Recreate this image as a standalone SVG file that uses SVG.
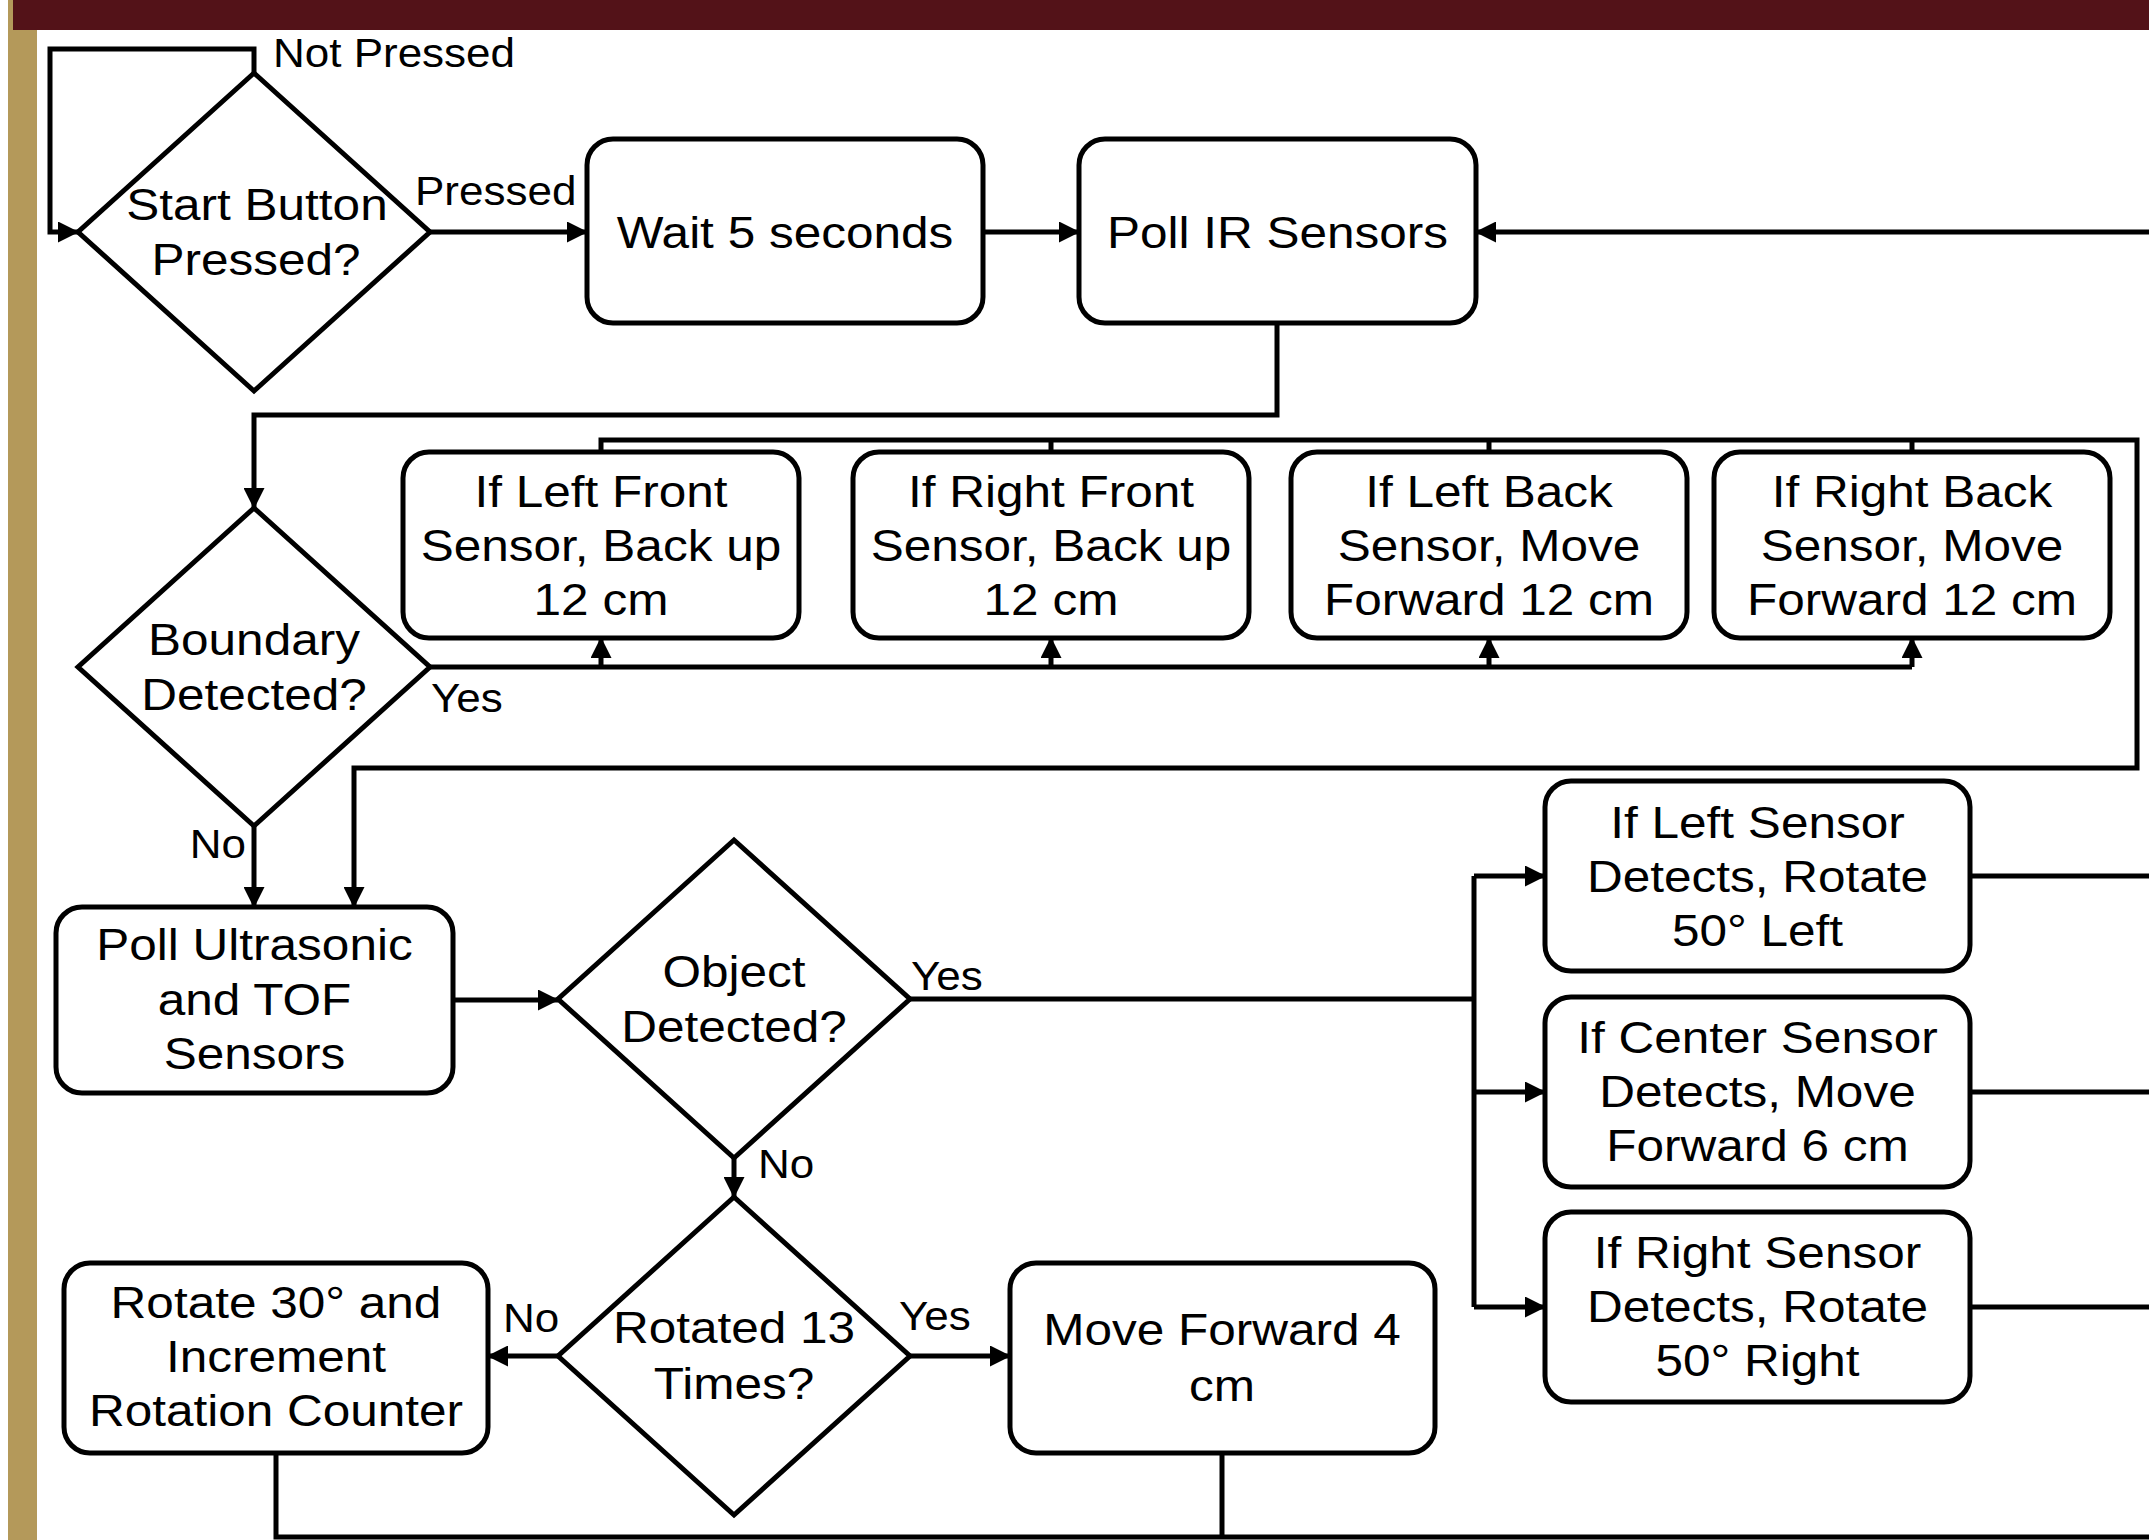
<svg xmlns="http://www.w3.org/2000/svg" width="2149" height="1540" viewBox="0 0 2149 1540">
<defs>
<style>
.n{fill:#fff;stroke:#000;stroke-width:5}
.c{fill:none;stroke:#000;stroke-width:5}
.a{marker-end:url(#ah)}
.t{font-family:"Liberation Sans",Arial,sans-serif;font-size:45px;fill:#000;text-anchor:middle}
.l{font-family:"Liberation Sans",Arial,sans-serif;font-size:40px;fill:#000}
</style>
<marker id="ah" markerUnits="userSpaceOnUse" markerWidth="21" markerHeight="21" refX="20" refY="10.5" orient="auto">
<path d="M0,0 L21,10.5 L0,21 z" fill="#000"/>
</marker>
</defs>
<rect x="0" y="0" width="2149" height="1540" fill="#fff"/>
<rect x="8" y="0" width="29" height="1540" fill="#b4995a"/>
<rect x="13" y="0" width="2136" height="30" fill="#531218"/>

<g id="connectors">
<path class="c a" d="M254,73 V49 H50 V232 H78"/>
<path class="c a" d="M430,232 H587"/>
<path class="c a" d="M983,232 H1079"/>
<path class="c a" d="M2149,232 H1476"/>
<path class="c a" d="M1277,323 V415 H254 V508"/>
<path class="c" d="M430,667 H1912"/>
<path class="c a" d="M601,667 V638"/>
<path class="c a" d="M1051,667 V638"/>
<path class="c a" d="M1489,667 V638"/>
<path class="c a" d="M1912,667 V638"/>
<path class="c a" d="M601,452 V440 H2137 V768 H354 V907"/>
<path class="c" d="M1051,452 V440"/>
<path class="c" d="M1489,452 V440"/>
<path class="c" d="M1912,452 V440"/>
<path class="c a" d="M254,826 V907"/>
<path class="c a" d="M453,1000 H558"/>
<path class="c" d="M910,999 H1474"/>
<path class="c" d="M1474,876 V1307"/>
<path class="c a" d="M1474,876 H1545"/>
<path class="c a" d="M1474,1092 H1545"/>
<path class="c a" d="M1474,1307 H1545"/>
<path class="c" d="M1970,876 H2149"/>
<path class="c" d="M1970,1092 H2149"/>
<path class="c" d="M1970,1307 H2149"/>
<path class="c a" d="M734,1158 V1197"/>
<path class="c a" d="M558,1356 H488"/>
<path class="c a" d="M910,1356 H1010"/>
<path class="c" d="M276,1453 V1537 H2149"/>
<path class="c" d="M1222,1453 V1537"/>
</g>

<g id="labels">
<text class="l" transform="scale(1.1 1)" x="248.18" y="67">Not Pressed</text>
<text class="l" transform="scale(1.1 1)" x="377.27" y="205">Pressed</text>
<text class="l" transform="scale(1.1 1)" x="391.82" y="712">Yes</text>
<text class="l" transform="scale(1.1 1)" x="223.64" y="858" text-anchor="end">No</text>
<text class="l" transform="scale(1.1 1)" x="828.18" y="990">Yes</text>
<text class="l" transform="scale(1.1 1)" x="689.09" y="1178">No</text>
<text class="l" transform="scale(1.1 1)" x="457.27" y="1332">No</text>
<text class="l" transform="scale(1.1 1)" x="817.27" y="1330">Yes</text>
</g>

<g id="start">
<polygon class="n" points="254,73 430,232 254,391 78,232"/>
<text class="t" transform="scale(1.1 1)" x="233.64" y="220">Start Button</text>
<text class="t" transform="scale(1.1 1)" x="232.73" y="275">Pressed?</text>
</g>
<g id="wait">
<rect class="n" x="587" y="139" width="396" height="184" rx="26"/>
<text class="t" transform="scale(1.1 1)" x="713.64" y="248">Wait 5 seconds</text>
</g>
<g id="pollir">
<rect class="n" x="1079" y="139" width="397" height="184" rx="26"/>
<text class="t" transform="scale(1.1 1)" x="1161.36" y="248">Poll IR Sensors</text>
</g>
<g id="boundary">
<polygon class="n" points="254,508 430,667 254,826 78,667"/>
<text class="t" transform="scale(1.1 1)" x="230.91" y="655">Boundary</text>
<text class="t" transform="scale(1.1 1)" x="230.91" y="710">Detected?</text>
</g>
<g id="leftfront">
<rect class="n" x="403" y="452" width="396" height="186" rx="26"/>
<text class="t" transform="scale(1.1 1)" x="546.36" y="507">If Left Front</text>
<text class="t" transform="scale(1.1 1)" x="546.36" y="561">Sensor, Back up</text>
<text class="t" transform="scale(1.1 1)" x="546.36" y="615">12 cm</text>
</g>
<g id="rightfront">
<rect class="n" x="853" y="452" width="396" height="186" rx="26"/>
<text class="t" transform="scale(1.1 1)" x="955.45" y="507">If Right Front</text>
<text class="t" transform="scale(1.1 1)" x="955.45" y="561">Sensor, Back up</text>
<text class="t" transform="scale(1.1 1)" x="955.45" y="615">12 cm</text>
</g>
<g id="leftback">
<rect class="n" x="1291" y="452" width="396" height="186" rx="26"/>
<text class="t" transform="scale(1.1 1)" x="1353.64" y="507">If Left Back</text>
<text class="t" transform="scale(1.1 1)" x="1353.64" y="561">Sensor, Move</text>
<text class="t" transform="scale(1.1 1)" x="1353.64" y="615">Forward 12 cm</text>
</g>
<g id="rightback">
<rect class="n" x="1714" y="452" width="396" height="186" rx="26"/>
<text class="t" transform="scale(1.1 1)" x="1738.18" y="507">If Right Back</text>
<text class="t" transform="scale(1.1 1)" x="1738.18" y="561">Sensor, Move</text>
<text class="t" transform="scale(1.1 1)" x="1738.18" y="615">Forward 12 cm</text>
</g>
<g id="pollus">
<rect class="n" x="56" y="907" width="397" height="186" rx="26"/>
<text class="t" transform="scale(1.1 1)" x="231.36" y="960">Poll Ultrasonic</text>
<text class="t" transform="scale(1.1 1)" x="231.36" y="1015">and TOF</text>
<text class="t" transform="scale(1.1 1)" x="231.36" y="1069">Sensors</text>
</g>
<g id="object">
<polygon class="n" points="734,840 910,999 734,1158 558,999"/>
<text class="t" transform="scale(1.1 1)" x="667.27" y="987">Object</text>
<text class="t" transform="scale(1.1 1)" x="667.27" y="1042">Detected?</text>
</g>
<g id="rotated">
<polygon class="n" points="734,1197 910,1356 734,1515 558,1356"/>
<text class="t" transform="scale(1.1 1)" x="667.27" y="1343">Rotated 13</text>
<text class="t" transform="scale(1.1 1)" x="667.27" y="1399">Times?</text>
</g>
<g id="rotate">
<rect class="n" x="64" y="1263" width="424" height="190" rx="26"/>
<text class="t" transform="scale(1.1 1)" x="250.91" y="1318">Rotate 30° and</text>
<text class="t" transform="scale(1.1 1)" x="250.91" y="1372">Increment</text>
<text class="t" transform="scale(1.1 1)" x="250.91" y="1426">Rotation Counter</text>
</g>
<g id="moveforward">
<rect class="n" x="1010" y="1263" width="425" height="190" rx="26"/>
<text class="t" transform="scale(1.1 1)" x="1110.91" y="1345">Move Forward 4</text>
<text class="t" transform="scale(1.1 1)" x="1110.91" y="1401">cm</text>
</g>
<g id="leftsensor">
<rect class="n" x="1545" y="781" width="425" height="190" rx="26"/>
<text class="t" transform="scale(1.1 1)" x="1597.73" y="838">If Left Sensor</text>
<text class="t" transform="scale(1.1 1)" x="1597.73" y="892">Detects, Rotate</text>
<text class="t" transform="scale(1.1 1)" x="1597.73" y="946">50° Left</text>
</g>
<g id="centersensor">
<rect class="n" x="1545" y="997" width="425" height="190" rx="26"/>
<text class="t" transform="scale(1.1 1)" x="1597.73" y="1053">If Center Sensor</text>
<text class="t" transform="scale(1.1 1)" x="1597.73" y="1107">Detects, Move</text>
<text class="t" transform="scale(1.1 1)" x="1597.73" y="1161">Forward 6 cm</text>
</g>
<g id="rightsensor">
<rect class="n" x="1545" y="1212" width="425" height="190" rx="26"/>
<text class="t" transform="scale(1.1 1)" x="1597.73" y="1268">If Right Sensor</text>
<text class="t" transform="scale(1.1 1)" x="1597.73" y="1322">Detects, Rotate</text>
<text class="t" transform="scale(1.1 1)" x="1597.73" y="1376">50° Right</text>
</g>
</svg>
